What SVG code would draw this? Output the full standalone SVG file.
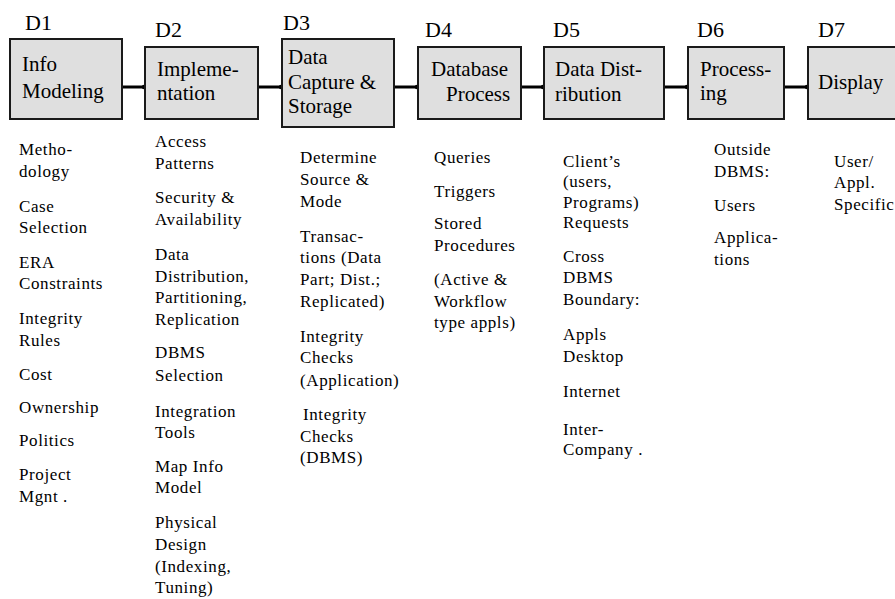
<svg xmlns="http://www.w3.org/2000/svg" width="895" height="599" viewBox="0 0 895 599">
  <style>
    text { font-family: 'Liberation Serif', 'Times New Roman', serif; fill: #000; }
    .box { fill: #dfdfdf; stroke: #1a1a1a; stroke-width: 2; }
    .hdr { font-size: 22px; }
    .lbl { font-size: 21px; }
    .txt { font-size: 17px; letter-spacing: 0.6px; }
    .link { stroke: #000; stroke-width: 3; fill: none; marker-end: url(#dot); }
  </style>
  <defs>
    <marker id="dot" viewBox="0 0 6 6" refX="4" refY="3" markerWidth="6" markerHeight="6" markerUnits="userSpaceOnUse">
      <circle cx="3" cy="3" r="2.2" fill="#000"/>
    </marker>
  </defs>
  <rect width="895" height="599" fill="#fff"/>

  <!-- flow connectors between the stages -->
  <g id="connectors">
    <line class="link" x1="122" y1="87" x2="145" y2="87"/>
    <line class="link" x1="258" y1="87" x2="282" y2="87"/>
    <line class="link" x1="394" y1="87" x2="418" y2="87"/>
    <line class="link" x1="521" y1="87" x2="544" y2="87"/>
    <line class="link" x1="664" y1="87" x2="688" y2="87"/>
    <line class="link" x1="784" y1="87" x2="808" y2="87"/>
  </g>

  <g id="d1">
    <text class="hdr" x="25" y="30">D1</text>
    <rect class="box" x="10" y="39" width="112" height="80"/>
    <text class="lbl" x="22" y="71">Info</text>
    <text class="lbl" x="22" y="98">Modeling</text>
    <text class="txt">
      <tspan x="19" y="155">Metho-</tspan>
      <tspan x="19" y="177">dology</tspan>
      <tspan x="19" y="212">Case</tspan>
      <tspan x="19" y="233">Selection</tspan>
      <tspan x="19" y="268">ERA</tspan>
      <tspan x="19" y="289">Constraints</tspan>
      <tspan x="19" y="324">Integrity</tspan>
      <tspan x="19" y="346">Rules</tspan>
      <tspan x="19" y="380">Cost</tspan>
      <tspan x="19" y="413">Ownership</tspan>
      <tspan x="19" y="446">Politics</tspan>
      <tspan x="19" y="480">Project</tspan>
      <tspan x="19" y="502">Mgnt .</tspan>
    </text>
  </g>

  <g id="d2">
    <text class="hdr" x="155" y="37">D2</text>
    <rect class="box" x="145" y="47" width="113" height="72"/>
    <text class="lbl" x="157" y="76">Impleme-</text>
    <text class="lbl" x="157" y="100">ntation</text>
    <text class="txt">
      <tspan x="155" y="147">Access</tspan>
      <tspan x="155" y="169">Patterns</tspan>
      <tspan x="155" y="203">Security &amp;</tspan>
      <tspan x="155" y="225">Availability</tspan>
      <tspan x="155" y="260">Data</tspan>
      <tspan x="155" y="282">Distribution,</tspan>
      <tspan x="155" y="303">Partitioning,</tspan>
      <tspan x="155" y="325">Replication</tspan>
      <tspan x="155" y="358">DBMS</tspan>
      <tspan x="155" y="381">Selection</tspan>
      <tspan x="155" y="417">Integration</tspan>
      <tspan x="155" y="438">Tools</tspan>
      <tspan x="155" y="472">Map Info</tspan>
      <tspan x="155" y="493">Model</tspan>
      <tspan x="155" y="528">Physical</tspan>
      <tspan x="155" y="550">Design</tspan>
      <tspan x="155" y="572">(Indexing,</tspan>
      <tspan x="155" y="593">Tuning)</tspan>
    </text>
  </g>

  <g id="d3">
    <text class="hdr" x="283" y="30">D3</text>
    <rect class="box" x="282" y="39" width="112" height="88"/>
    <text class="lbl" x="288" y="64">Data</text>
    <text class="lbl" x="288" y="89">Capture &amp;</text>
    <text class="lbl" x="288" y="113">Storage</text>
    <text class="txt">
      <tspan x="300" y="163">Determine</tspan>
      <tspan x="300" y="185">Source &amp;</tspan>
      <tspan x="300" y="207">Mode</tspan>
      <tspan x="300" y="242">Transac-</tspan>
      <tspan x="300" y="263">tions (Data</tspan>
      <tspan x="300" y="285">Part; Dist.;</tspan>
      <tspan x="300" y="307">Replicated)</tspan>
      <tspan x="300" y="342">Integrity</tspan>
      <tspan x="300" y="363">Checks</tspan>
      <tspan x="300" y="386">(Application)</tspan>
      <tspan x="303" y="420">Integrity</tspan>
      <tspan x="300" y="442">Checks</tspan>
      <tspan x="300" y="463">(DBMS)</tspan>
    </text>
  </g>

  <g id="d4">
    <text class="hdr" x="425" y="37">D4</text>
    <rect class="box" x="418" y="47" width="103" height="72"/>
    <text class="lbl" x="431" y="76">Database</text>
    <text class="lbl" x="446" y="101">Process</text>
    <text class="txt">
      <tspan x="434" y="163">Queries</tspan>
      <tspan x="434" y="197">Triggers</tspan>
      <tspan x="434" y="229">Stored</tspan>
      <tspan x="434" y="251">Procedures</tspan>
      <tspan x="434" y="285">(Active &amp;</tspan>
      <tspan x="434" y="307">Workflow</tspan>
      <tspan x="434" y="328">type appls)</tspan>
    </text>
  </g>

  <g id="d5">
    <text class="hdr" x="553" y="37">D5</text>
    <rect class="box" x="544" y="47" width="120" height="72"/>
    <text class="lbl" x="555" y="76">Data Dist-</text>
    <text class="lbl" x="555" y="101">ribution</text>
    <text class="txt">
      <tspan x="563" y="167">Client’s</tspan>
      <tspan x="563" y="187">(users,</tspan>
      <tspan x="563" y="208">Programs)</tspan>
      <tspan x="563" y="228">Requests</tspan>
      <tspan x="563" y="262">Cross</tspan>
      <tspan x="563" y="283">DBMS</tspan>
      <tspan x="563" y="305">Boundary:</tspan>
      <tspan x="563" y="340">Appls</tspan>
      <tspan x="563" y="362">Desktop</tspan>
      <tspan x="563" y="397">Internet</tspan>
      <tspan x="563" y="435">Inter-</tspan>
      <tspan x="563" y="455">Company .</tspan>
    </text>
  </g>

  <g id="d6">
    <text class="hdr" x="697" y="37">D6</text>
    <rect class="box" x="688" y="47" width="96" height="72"/>
    <text class="lbl" x="700" y="76">Process-</text>
    <text class="lbl" x="700" y="100">ing</text>
    <text class="txt">
      <tspan x="714" y="155">Outside</tspan>
      <tspan x="714" y="177">DBMS:</tspan>
      <tspan x="714" y="211">Users</tspan>
      <tspan x="714" y="243">Applica-</tspan>
      <tspan x="714" y="265">tions</tspan>
    </text>
  </g>

  <g id="d7">
    <text class="hdr" x="818" y="37">D7</text>
    <rect class="box" x="808" y="47" width="100" height="72"/>
    <text class="lbl" x="818" y="89">Display</text>
    <text class="txt">
      <tspan x="834" y="167">User/</tspan>
      <tspan x="834" y="188">Appl.</tspan>
      <tspan x="834" y="210">Specific</tspan>
    </text>
  </g>
</svg>
